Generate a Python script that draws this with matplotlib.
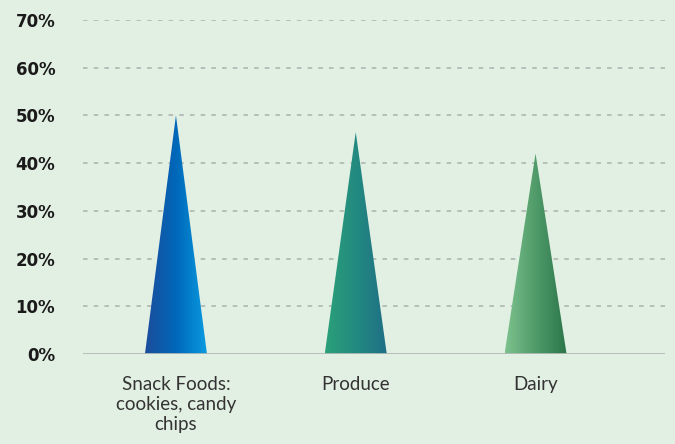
import matplotlib
matplotlib.use("Agg")
import matplotlib.pyplot as plt
import numpy as np
from matplotlib.patches import Polygon
from matplotlib.colors import LinearSegmentedColormap

categories = ["Snack Foods:\ncookies, candy\nchips", "Produce", "Dairy"]
values = [50.0, 46.5, 42.0]
yticks = [0, 10, 20, 30, 40, 50, 60, 70]
ytick_labels = ["0%", "10%", "20%", "30%", "40%", "50%", "60%", "70%"]
gradients = [
    ["#1d4c9c", "#0068b9", "#0a9de2"],
    ["#2ba07a", "#238a80", "#1f6e86"],
    ["#7cc28e", "#4f9a68", "#2a7449"],
]

bg = "#e2efe3"
fig = plt.figure(figsize=(6.75, 4.44), dpi=100, facecolor=bg)
ax = fig.add_axes([83/675, 1-354/444, (665-83)/675, (354-20)/444])
ax.set_facecolor(bg)

width = 0.345
xs = np.arange(len(categories))

for y in yticks[1:]:
    ax.axhline(y, color="#a9b1ad", lw=1.1, ls=(0, (3, 4)), zorder=1)
ax.axhline(0, color="#b3bab6", lw=2.0, zorder=3)

grad = np.linspace(0, 1, 256).reshape(1, -1)
for x, v, cols in zip(xs, values, gradients):
    poly = Polygon([[x - width/2, 0], [x, v], [x + width/2, 0]], closed=True,
                   facecolor="none", edgecolor="none")
    ax.add_patch(poly)
    cmap = LinearSegmentedColormap.from_list("g", cols)
    im = ax.imshow(grad, cmap=cmap, aspect="auto",
                   extent=[x - width/2, x + width/2, 0, v], zorder=2,
                   interpolation="bilinear")
    im.set_clip_path(poly)

ax.set_xlim(-0.517, 2.72)
ax.set_ylim(0, 70)
ax.set_xticks(xs)
ax.set_xticklabels(categories, fontsize=13.5, color="#333333", family="Lato",
                   linespacing=1.2)
ax.set_yticks(yticks)
ax.set_yticklabels(ytick_labels, fontsize=12, fontweight="bold", color="#1a1a1a")
ax.tick_params(axis="x", length=0, pad=16)
ax.tick_params(axis="y", length=0, pad=20)
for s in ax.spines.values():
    s.set_visible(False)

fig.savefig("out.png", dpi=100, facecolor=bg)
